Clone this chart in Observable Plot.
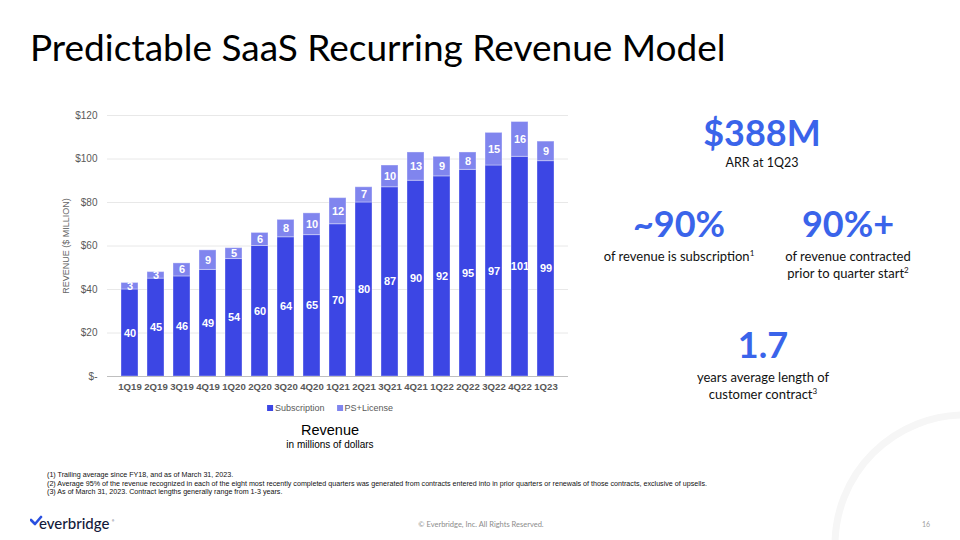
<!DOCTYPE html>
<html>
<head>
<meta charset="utf-8">
<script src="https://cdn.jsdelivr.net/npm/d3@7"></script>
<script src="https://cdn.jsdelivr.net/npm/@observablehq/plot@0.6"></script>
<style>
  html, body { margin: 0; padding: 0; background: #fff; }
  #page { position: relative; width: 960px; height: 540px; overflow: hidden; background: #fff; font-family: Lato, "Open Sans", sans-serif; }
  .abs { position: absolute; white-space: nowrap; }
  #title { left: 30px; top: 24px; font-size: 37px; color: #000; font-family: Lato, sans-serif; }
  #chart { left: 60px; top: 100px; }
  .big { color: #3a64ea; font-weight: 700; font-size: 36px; text-align: center; transform: translateX(-50%); line-height: 36px; }
  .sub { color: #111; font-size: 13px; text-align: center; transform: translateX(-50%); line-height: 17px; }
  .sub sup { font-size: 8px; vertical-align: 5px; line-height: 0; }
  #legend { left: 330px; top: 403px; transform: translateX(-50%); font-family: "Liberation Sans", Arial, sans-serif; font-size: 9px; color: #595959; }
  #legend span.sw { display: inline-block; width: 6px; height: 6px; margin-right: 2px; vertical-align: 0px; }
  #revTitle { left: 330px; top: 422px; transform: translateX(-50%); font-family: "Liberation Sans", Arial, sans-serif; font-size: 14.5px; color: #000; text-align: center; line-height: 16px; }
  #revTitle div.s { font-size: 10px; line-height: 13px; }
  #notes { left: 47px; top: 471px; font-family: "Liberation Sans Narrow", "Arial Narrow", "Liberation Sans", sans-serif; font-size: 7.15px; color: #111; line-height: 8.5px; }
  #copy { left: 481px; top: 520px; transform: translateX(-50%); font-size: 7.5px; color: #8c8c8c; }
  #pnum { left: 922px; top: 520px; font-size: 7px; color: #a0a0a0; }
  #logo { left: 30px; top: 514px; }
</style>
</head>
<body>
<div id="page">
  <svg class="abs" style="left:0;top:0" width="960" height="540">
    <circle cx="965" cy="545" r="130" fill="none" stroke="#f6f6f6" stroke-width="7"></circle>
  </svg>
  <div id="title" class="abs">Predictable SaaS Recurring Revenue Model</div>
  <div id="chart" class="abs"></div>
  <div id="legend" class="abs"></div>
  <div id="revTitle" class="abs"><div>Revenue</div><div class="s">in millions of dollars</div></div>

  <div class="abs big" style="left:762px;top:114px;">$388M</div>
  <div class="abs sub" style="left:762px;top:154px;font-size:12.5px;">ARR at 1Q23</div>
  <div class="abs big" style="left:679px;top:205px;">~90%</div>
  <div class="abs sub" style="left:679px;top:248px;">of revenue is subscription<sup>1</sup></div>
  <div class="abs big" style="left:848px;top:205px;">90%+</div>
  <div class="abs sub" style="left:848px;top:248px;">of revenue contracted<br>prior to quarter start<sup>2</sup></div>
  <div class="abs big" style="left:763px;top:326px;">1.7</div>
  <div class="abs sub" style="left:763px;top:369px;">years average length of<br>customer contract<sup>3</sup></div>

  <div id="notes" class="abs">
    <div>(1) Trailing average since FY18, and as of March 31, 2023.</div>
    <div>(2) Average 95% of the revenue recognized in each of the eight most recently completed quarters was generated from contracts entered into in prior quarters or renewals of those contracts, exclusive of upsells.</div>
    <div>(3) As of March 31, 2023. Contract lengths generally range from 1-3 years.</div>
  </div>
  <div id="logo" class="abs">
    <svg width="90" height="20">
      <path d="M1 6 L5 10 L11 3" fill="none" stroke="#2a50e0" stroke-width="2.6" stroke-linecap="round" stroke-linejoin="round"></path>
      <text x="9" y="15" font-family="Lato, 'Open Sans', sans-serif" font-size="15" fill="#131a3a" font-weight="500">everbridge</text>
      <text x="82" y="8" font-family="sans-serif" font-size="3" fill="#131a3a">®</text>
    </svg>
  </div>
  <div id="copy" class="abs">© Everbridge, Inc. All Rights Reserved.</div>
  <div id="pnum" class="abs">16</div>
</div>
<script>
const quarters = ["1Q19","2Q19","3Q19","4Q19","1Q20","2Q20","3Q20","4Q20","1Q21","2Q21","3Q21","4Q21","1Q22","2Q22","3Q22","4Q22","1Q23"];
const subscription = [40,45,46,49,54,60,64,65,70,80,87,90,92,95,97,101,99];
const psLicense = [3,3,6,9,5,6,8,10,12,7,10,13,9,8,15,16,9];
const seriesNames = ["Subscription","PS+License"];
const seriesColors = ["#3c46e4","#8085ee"];
const yTicks = [0,20,40,60,80,100,120];

const data = [];
quarters.forEach((q, i) => {
  data.push({q, series: seriesNames[0], value: subscription[i]});
  data.push({q, series: seriesNames[1], value: psLicense[i]});
});

const chart = Plot.plot({
  width: 520,
  height: 298,
  marginLeft: 47,
  marginRight: 12,
  marginTop: 15,
  marginBottom: 22,
  style: {fontFamily: "'Liberation Sans', Arial, sans-serif", fontSize: "10px", color: "#595959", background: "transparent"},
  x: {domain: quarters, padding: 0.34, label: null},
  y: {domain: [0, 120], label: null},
  color: {domain: seriesNames, range: seriesColors},
  marks: [
    Plot.gridY(yTicks, {stroke: "#e8e8e8", strokeOpacity: 1}),
    Plot.axisY(yTicks, {tickSize: 0, tickPadding: 10, tickFormat: d => d === 0 ? "$-" : "$" + d, fill: "#595959", fontSize: 10,
      label: "REVENUE ($ MILLION)", labelAnchor: "center", labelArrow: "none", labelOffset: 45}),
    Plot.axisX({tickSize: 0, tickPadding: 7, fontWeight: "bold", fill: "#595959", fontSize: 9.6, label: null}),
    Plot.barY(data, Plot.stackY({x: "q", y: "value", fill: "series", stroke: "#ffffff", strokeOpacity: 0.35, strokeWidth: 1, order: seriesNames})),
    Plot.text(data, Plot.stackY({x: "q", y: "value", z: "series", text: "value", order: seriesNames, fill: "white", fontWeight: "bold", fontSize: 11})),
    Plot.ruleY([0], {stroke: "#bfbfbf"})
  ]
});
document.getElementById("chart").appendChild(chart);
// y-axis title styling (smaller, lighter), as in the reference
chart.querySelectorAll("g[aria-label='y-axis label'] text").forEach(t => { t.setAttribute("font-size", "9"); t.setAttribute("fill", "#666"); });

const legend = document.getElementById("legend");
legend.innerHTML = seriesNames.map((s, i) =>
  `<span style="margin-right:${i === 0 ? 12 : 0}px"><span class="sw" style="background:${seriesColors[i]}"></span>${s}</span>`).join("");
</script>
</body>
</html>
